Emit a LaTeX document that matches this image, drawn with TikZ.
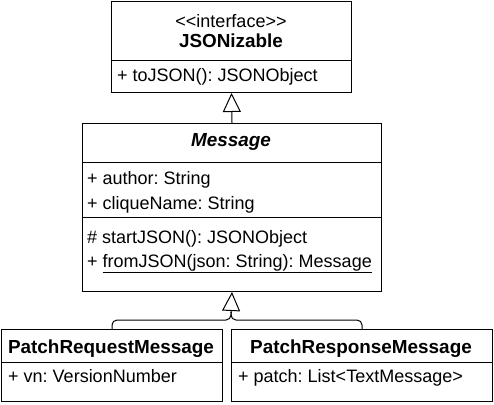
\documentclass[tikz,border=0pt]{standalone}
\usepackage{fontspec}
\setmainfont{Liberation Sans}
\usetikzlibrary{arrows.meta}
\frenchspacing
\begin{document}
\begin{tikzpicture}[x=1pt,y=-1pt,
  every node/.style={font=\fontsize{18}{21}\selectfont},
  box/.style={draw, line width=1pt, anchor=north west, inner sep=0pt},
  txt/.style={anchor=base west, inner sep=0pt},
  ctxt/.style={anchor=base, inner sep=0pt},
  bold/.style={font=\fontsize{18.9}{22}\selectfont\bfseries},
  line/.style={line width=1pt},
  gen/.style={line width=1pt, -{Triangle[open, length=19pt, width=18pt, line width=1pt]}}]
\useasboundingbox (0,0) rectangle (494,404);
% JSONizable
\node[box, minimum width=240pt, minimum height=91pt] (jz) at (111,1) {};
\draw[line] (111,60) -- (351,60);
\node[ctxt] (jzst) at (231,28) {<\kern0pt<interface>\kern0pt>};
\node[ctxt, bold] (jzname) at (231,47) {JSONizable};
\node[txt] (jzop) at (117,81) {+ toJSON(): JSONObject};
% Message
\node[box, minimum width=299pt, minimum height=168pt] (msg) at (82,123) {};
\draw[line] (82,162) -- (381,162);
\draw[line] (82,217) -- (381,217);
\node[ctxt, bold, font=\fontsize{18.9}{22}\selectfont\bfseries\itshape] (msgname) at (231,146) {Message};
\node[txt] (a1) at (87,184) {+ author: String};
\node[txt] (a2) at (87,209) {+ cliqueName: String};
\node[txt] (o1) at (87,243) {\# startJSON(): JSONObject};
\node[txt] (o2) at (87,267) {+ \underline{fromJSON(json: String): Message}};
% PatchRequestMessage
\node[box, minimum width=221pt, minimum height=72pt] (req) at (1,329) {};
\draw[line] (1,362) -- (222,362);
\node[ctxt, bold] (reqname) at (111,353) {PatchRequestMessage};
\node[txt] (reqa) at (8,382) {+ vn: VersionNumber};
% PatchResponseMessage
\node[box, minimum width=261pt, minimum height=72pt] (resp) at (231,329) {};
\draw[line] (231,362) -- (492,362);
\node[ctxt, bold] (respname) at (361,353) {PatchResponseMessage};
\node[txt] (respa) at (238,382) {+ patch: List<TextMessage>};
% connectors
\draw[gen] (msg.north) -- (jz.south);
\coordinate (j) at (231,320);
\draw[line, rounded corners=5pt] (req.north) |- (j) -- (231,312);
\draw[line, rounded corners=5pt] (resp.north) |- (j) -- (231,312);
\draw[gen] (231,313) -- (msg.south);
\end{tikzpicture}
\end{document}
